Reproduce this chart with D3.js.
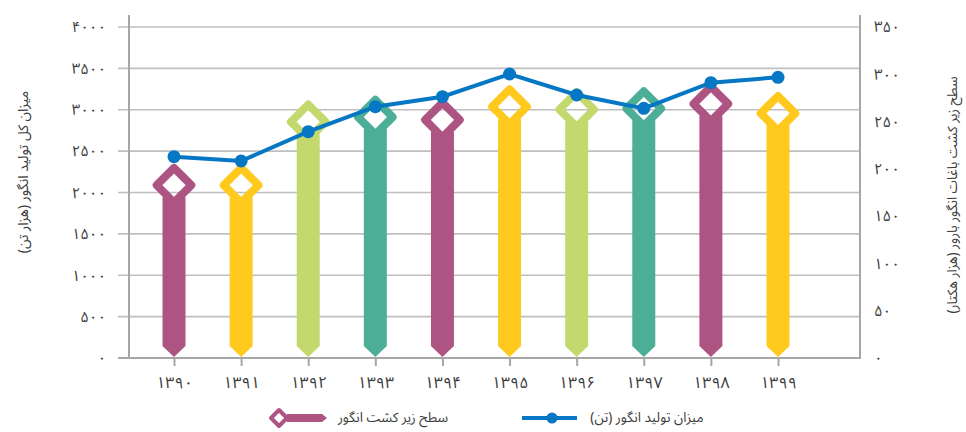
<!DOCTYPE html>
<html><head><meta charset="utf-8">
<script src="https://cdn.jsdelivr.net/npm/d3@7"></script>
<style>
html,body{margin:0;padding:0;background:#fff;}
text{font-family:"Noto Sans Arabic","Vazirmatn","DejaVu Sans",sans-serif;fill:#3C3C3C;}
</style></head>
<body><svg id="c" width="966" height="432"></svg>
<script>
const years = ["1390","1391","1392","1393","1394","1395","1396","1397","1398","1399"];
const production = [2433, 2381, 2735, 3037, 3158, 3432, 3178, 3017, 3327, 3392]; // هزار تن
const area = [206, 206, 273, 278, 275, 289, 286, 287, 292, 282]; // هزار هکتار
const leftTicks = [0, 500, 1000, 1500, 2000, 2500, 3000, 3500, 4000];
const rightTicks = [0, 50, 100, 150, 200, 250, 300, 350];
const barColors = ["#AE5483", "#FFC91E", "#C3D96E", "#4DAE98"];
const lineColor = "#0677C4";
const leftTitle = "میزان کل تولید انگور (هزار تن)";
const rightTitle = "سطح زیر کشت باغات انگور بارور (هزار هکتار)";
const legendArea = "سطح زیر کشت انگور";
const legendProd = "میزان تولید انگور (تن)";

const fa = s => String(s).replace(/[0-9]/g, d => "۰۱۲۳۴۵۶۷۸۹"[+d]);

const svg = d3.select("#c");
const plotL = 129, plotR = 860, plotTop = 15, y0 = 358;
const x = d3.scalePoint().domain(years).range([174, 778]);
const yL = d3.scaleLinear().domain([0, 4000]).range([y0, 27]);
const yR = d3.scaleLinear().domain([0, 350]).range([y0, 27]);

// grid
svg.append("g").selectAll("line").data(leftTicks.slice(1)).join("line")
  .attr("x1", 118).attr("x2", plotR).attr("y1", d => yL(d)).attr("y2", d => yL(d))
  .attr("stroke", "#BFBFBF").attr("stroke-width", 1.6);

// axes lines
svg.append("line").attr("x1", plotL).attr("x2", plotL).attr("y1", plotTop).attr("y2", y0 + 1)
  .attr("stroke", "#A6A6A6").attr("stroke-width", 2);
svg.append("line").attr("x1", plotR).attr("x2", plotR).attr("y1", plotTop).attr("y2", y0 + 1)
  .attr("stroke", "#A6A6A6").attr("stroke-width", 2);
svg.append("line").attr("x1", 118).attr("x2", plotR + 1).attr("y1", y0).attr("y2", y0)
  .attr("stroke", "#A6A6A6").attr("stroke-width", 2);

// left axis labels
const gl = svg.append("g").attr("transform", `translate(${plotL},0)`)
  .call(d3.axisLeft(yL).tickValues(leftTicks).tickSize(0).tickPadding(23).tickFormat(fa));
gl.select(".domain").remove();
gl.selectAll("text").attr("font-size", 15).style("fill", "#3C3C3C").attr("font-family", null);

const gr = svg.append("g").attr("transform", `translate(${plotR},0)`)
  .call(d3.axisRight(yR).tickValues(rightTicks).tickSize(0).tickPadding(14).tickFormat(fa));
gr.select(".domain").remove();
gr.selectAll("text").attr("font-size", 15).style("fill", "#3C3C3C").attr("font-family", null);

const gb = svg.append("g").attr("transform", `translate(0,${y0})`)
  .call(d3.axisBottom(x).tickSize(8).tickPadding(11).tickFormat(fa));
gb.select(".domain").remove();
gb.selectAll("line").attr("stroke", "#A6A6A6").attr("stroke-width", 2);
gb.selectAll("text").attr("font-size", 16).style("fill", "#3C3C3C").attr("font-family", null);

// bars (pencil shape with hollow diamond)
const bars = svg.append("g").selectAll("g").data(years).join("g");
bars.append("path")
  .attr("d", (d, i) => {
    const cx = x(d), cy = yR(area[i]) + 22, w = 11.5;
    return `M${cx - w},${cy + 12}L${cx + w},${cy + 12}L${cx + w},${y0 - 12}L${cx},${y0 - 1}L${cx - w},${y0 - 12}Z`;
  })
  .attr("fill", (d, i) => barColors[i % 4]);
bars.append("path")
  .attr("d", (d, i) => {
    const cx = x(d), cy = yR(area[i]) + 22, h = 17.3;
    return `M${cx},${cy - h}L${cx + h},${cy}L${cx},${cy + h}L${cx - h},${cy}Z`;
  })
  .attr("fill", "none").attr("stroke", (d, i) => barColors[i % 4])
  .attr("stroke-width", 8).attr("stroke-linejoin", "round");

// line
svg.append("path").datum(production)
  .attr("d", d3.line().x((d, i) => x(years[i])).y(d => yL(d)))
  .attr("fill", "none").attr("stroke", lineColor).attr("stroke-width", 4);
svg.append("g").selectAll("circle").data(production).join("circle")
  .attr("cx", (d, i) => x(years[i])).attr("cy", d => yL(d)).attr("r", 6.5).attr("fill", lineColor);

// axis titles
svg.append("text").attr("transform", "translate(24,172) rotate(-90)")
  .attr("text-anchor", "middle").attr("dominant-baseline", "middle").attr("direction", "rtl")
  .attr("font-size", 14).text(leftTitle);
svg.append("text").attr("transform", "translate(953,195) rotate(-90)")
  .attr("text-anchor", "middle").attr("dominant-baseline", "middle").attr("direction", "rtl")
  .attr("font-size", 13.5).text(rightTitle);

// legend
const ly = 418;
const lg = svg.append("g");
const lc = barColors[0];
lg.append("path").attr("d", `M287,${ly - 4}L322,${ly - 4}L327,${ly}L322,${ly + 4}L287,${ly + 4}Z`).attr("fill", lc);
lg.append("path").attr("d", `M271,${ly}L279,${ly - 8}L287,${ly}L279,${ly + 8}Z`)
  .attr("fill", "none").attr("stroke", lc).attr("stroke-width", 4).attr("stroke-linejoin", "round");
lg.append("text").attr("x", 393).attr("y", ly).attr("text-anchor", "middle").attr("dominant-baseline", "middle")
  .attr("direction", "rtl").attr("font-size", 13.5).text(legendArea);
lg.append("line").attr("x1", 522).attr("x2", 577).attr("y1", ly).attr("y2", ly)
  .attr("stroke", lineColor).attr("stroke-width", 4);
lg.append("circle").attr("cx", 552).attr("cy", ly).attr("r", 5.5).attr("fill", lineColor);
lg.append("text").attr("x", 647).attr("y", ly).attr("text-anchor", "middle").attr("dominant-baseline", "middle")
  .attr("direction", "rtl").attr("font-size", 13.5).text(legendProd);
</script></body></html>
